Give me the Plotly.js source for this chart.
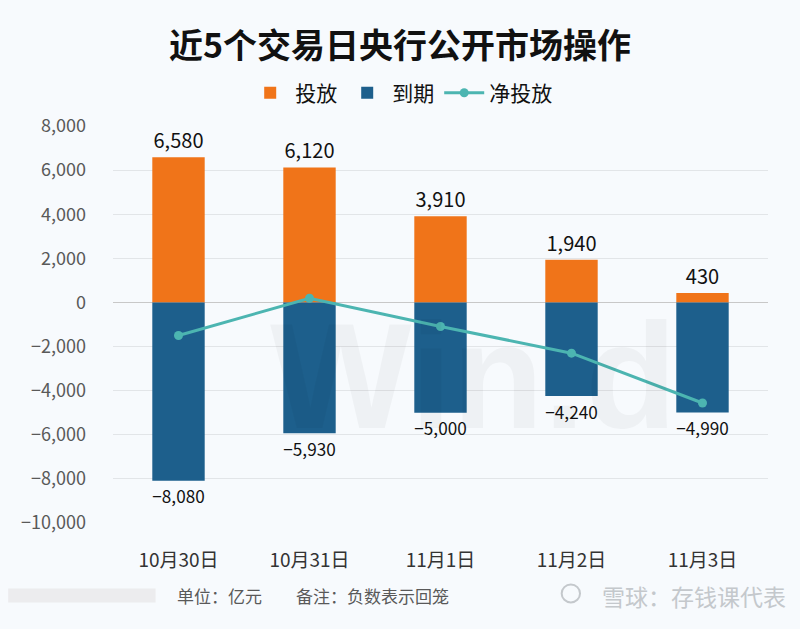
<!DOCTYPE html>
<html>
<head>
<meta charset="utf-8">
<script src="https://cdn.plot.ly/plotly-3.0.1.min.js"></script>
<style>
  html, body { margin: 0; padding: 0; background: #f7fafd; }
  #chart { width: 800px; height: 629px; }
</style>
</head>
<body>
<div id="chart"></div>
<script>
// 日期与数据（单位：亿元）
var dates = ['10月30日', '10月31日', '11月1日', '11月2日', '11月3日'];
var touFang = [6580, 6120, 3910, 1940, 430];
var daoQi = [-8080, -5930, -5000, -4240, -4990];
var jingTouFang = [-1500, 190, -1090, -2300, -4560];

var FONT = '"Noto Sans CJK SC", "Noto Sans", sans-serif';

function fmt(v) {
    return v.toLocaleString('en-US').replace('-', '\u2212');
}

CHART = document.getElementById('chart');

var data = [{
    x: dates, y: touFang, type: 'bar', name: '投放',
    marker: { color: '#f07419' },
    text: touFang.map(fmt), textposition: 'outside', cliponaxis: false,
    textfont: { family: FONT, size: 20, color: '#111111' }
}, {
    x: dates, y: daoQi, type: 'bar', name: '到期',
    marker: { color: '#1d5f8c' },
    text: daoQi.map(fmt), textposition: 'outside', cliponaxis: false,
    textfont: { family: FONT, size: 20, color: '#111111' }
}, {
    x: dates, y: jingTouFang, type: 'scatter', mode: 'lines+markers', name: '净投放',
    line: { color: '#4cb5b1', width: 3 },
    marker: { color: '#4cb5b1', size: 9 }
}];

var layout = {
    width: 800, height: 629,
    paper_bgcolor: '#f7fafd', plot_bgcolor: '#f7fafd',
    font: { family: FONT, size: 18, color: '#595959' },
    title: {
        text: '<b>近5个交易日央行公开市场操作</b>',
        font: { family: FONT, size: 34, color: '#111111' },
        x: 0.5, xanchor: 'center', y: 0.927, yanchor: 'middle'
    },
    barmode: 'relative', bargap: 0.6,
    margin: { l: 113, r: 32, t: 126, b: 106 },
    showlegend: true,
    legend: {
        orientation: 'h', x: 0.44, xanchor: 'center', y: 1.083, yanchor: 'middle',
        font: { family: FONT, size: 21, color: '#111111' },
        itemwidth: 40
    },
    xaxis: {
        showgrid: false, showline: false, zeroline: false,
        tickfont: { family: FONT, size: 19, color: '#333333' },
        ticklabelstandoff: 24
    },
    yaxis: {
        range: [-10000, 8000], dtick: 2000, tickformat: ',',
        showgrid: true, gridcolor: '#e2e5e8', gridwidth: 1,
        zeroline: true, zerolinecolor: '#c8c8c8', zerolinewidth: 1,
        tickfont: { family: FONT, size: 18, color: '#595959' },
        ticklabelstandoff: 26
    },
    shapes: [{
        type: 'rect', xref: 'paper', yref: 'paper', layer: 'below',
        x0: -0.16, x1: 0.065, y0: -0.165, y1: -0.2,
        fillcolor: '#ececee', line: { width: 0 }
    }, {
        type: 'circle', xref: 'paper', yref: 'paper', layer: 'above',
        x0: 0.685, x1: 0.713, y0: -0.2, y1: -0.155,
        line: { color: '#c4c8cc', width: 2 }
    }],
    annotations: [{
        text: '单位：亿元　　备注：负数表示回笼',
        xref: 'paper', yref: 'paper', x: 0.095, y: -0.183,
        xanchor: 'left', yanchor: 'middle', showarrow: false,
        font: { family: FONT, size: 17, color: '#595959' }
    }, {
        text: '雪球：存钱课代表',
        xref: 'paper', yref: 'paper', x: 1.03, y: -0.183,
        xanchor: 'right', yanchor: 'middle', showarrow: false,
        font: { family: FONT, size: 23, color: '#c4c8cc' }
    }, {
        text: '<b>Win.d</b>',
        xref: 'paper', yref: 'paper', x: 0.55, y: 0.37,
        xanchor: 'center', yanchor: 'middle', showarrow: false,
        font: { family: 'Liberation Sans', size: 150, color: 'rgba(0,0,0,0.035)' }
    }]
};

var config = { responsive: false, displayModeBar: false };

Plotly.newPlot(CHART, data, layout, config);
</script>
</body>
</html>
